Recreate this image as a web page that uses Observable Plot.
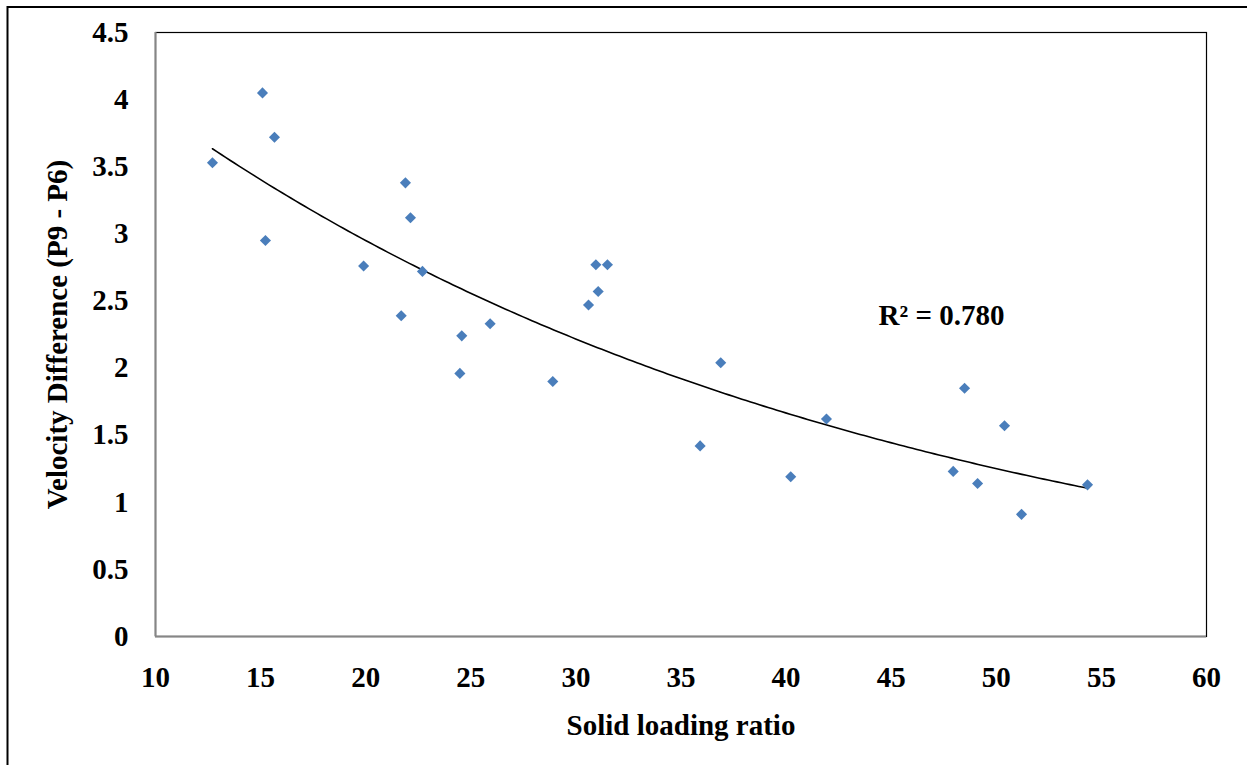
<!DOCTYPE html>
<html>
<head>
<meta charset="utf-8">
<script src="https://cdn.jsdelivr.net/npm/d3@7"></script>
<script src="https://cdn.jsdelivr.net/npm/@observablehq/plot@0.6"></script>
<style>
  html, body { margin: 0; padding: 0; background: #fff; }
  #chart { width: 1247px; height: 765px; overflow: hidden; }
</style>
</head>
<body>
<div id="chart"></div>
<script>
// Data
const loadingRatio = [12.71, 15.09, 15.66, 15.23, 19.90, 21.89, 22.13, 22.70, 21.69, 24.57, 24.48, 25.92, 28.90, 30.60, 31.06, 30.95, 31.50, 35.91, 36.89, 40.22, 41.92, 47.95, 48.49, 49.11, 50.39, 51.20, 54.34];
const velocityDiff = [3.53, 4.05, 3.72, 2.95, 2.76, 3.38, 3.12, 2.72, 2.39, 2.24, 1.96, 2.33, 1.90, 2.47, 2.57, 2.77, 2.77, 1.42, 2.04, 1.19, 1.62, 1.23, 1.85, 1.14, 1.57, 0.91, 1.13];
const xTicks = [10, 15, 20, 25, 30, 35, 40, 45, 50, 55, 60];
const yTicks = [0, 0.5, 1, 1.5, 2, 2.5, 3, 3.5, 4, 4.5];
const xTitle = "Solid loading ratio";
const yTitle = "Velocity Difference (P9 - P6)";
const r2Label = "R² = 0.780";
const r2Pos = {x: 44.4, y: 2.39};

const points = loadingRatio.map((x, i) => ({x, y: velocityDiff[i]}));

// Exponential trendline (least squares on ln y), as the spreadsheet does
const mx = d3.mean(points, d => d.x);
const my = d3.mean(points, d => Math.log(d.y));
const b = d3.sum(points, d => (d.x - mx) * (Math.log(d.y) - my)) / d3.sum(points, d => (d.x - mx) ** 2);
const a = Math.exp(my - b * mx);
const [x0, x1] = d3.extent(loadingRatio);
const trend = d3.range(0, 201).map(i => {
  const x = x0 + (x1 - x0) * i / 200;
  return {x, y: a * Math.exp(b * x)};
});

const font = "'Liberation Serif', 'Times New Roman', serif";
const fs = 29;

const chart = Plot.plot({
  width: 1247,
  height: 765,
  marginLeft: 155,
  marginTop: 32,
  marginRight: 41,
  marginBottom: 129,
  style: {fontFamily: font, fontSize: fs + "px", fontWeight: "bold", color: "#000", background: "#fff"},
  x: {domain: [10, 60], ticks: xTicks, tickSize: 0, tickPadding: 30, label: null, tickFormat: d => String(d)},
  y: {domain: [0, 4.5], ticks: yTicks, tickSize: 0, tickPadding: 27, label: null, tickFormat: d => String(d)},
  marks: [
    Plot.frame({stroke: "#000", strokeWidth: 1.2}),
    Plot.ruleX([xTicks[0]], {stroke: "#868686", strokeWidth: 2}),
    Plot.ruleY([yTicks[0]], {stroke: "#868686", strokeWidth: 2}),
    Plot.line(trend, {x: "x", y: "y", stroke: "#000", strokeWidth: 1.6}),
    Plot.dot(points, {x: "x", y: "y", symbol: "diamond2", r: 5, fill: "#4a7ebb", stroke: "none"}),
    Plot.text([r2Label], {x: r2Pos.x, y: r2Pos.y, text: d => d, textAnchor: "start", fontSize: fs, fontWeight: "bold", fill: "#000"}),
    Plot.text([xTitle], {frameAnchor: "bottom", dy: 98, text: d => d, textAnchor: "middle", fontSize: fs, fontWeight: "bold", fill: "#000"}),
    Plot.text([yTitle], {frameAnchor: "left", dx: -98, rotate: -90, textAnchor: "middle", text: d => d, fontSize: fs, fontWeight: "bold", fill: "#000"})
  ]
});

// outer chart border
d3.select(chart).append("rect")
  .attr("x", 7.5).attr("y", 7).attr("width", 1400).attr("height", 1000)
  .attr("fill", "none").attr("stroke", "#000").attr("stroke-width", 2);

document.getElementById("chart").appendChild(chart);
</script>
</body>
</html>
